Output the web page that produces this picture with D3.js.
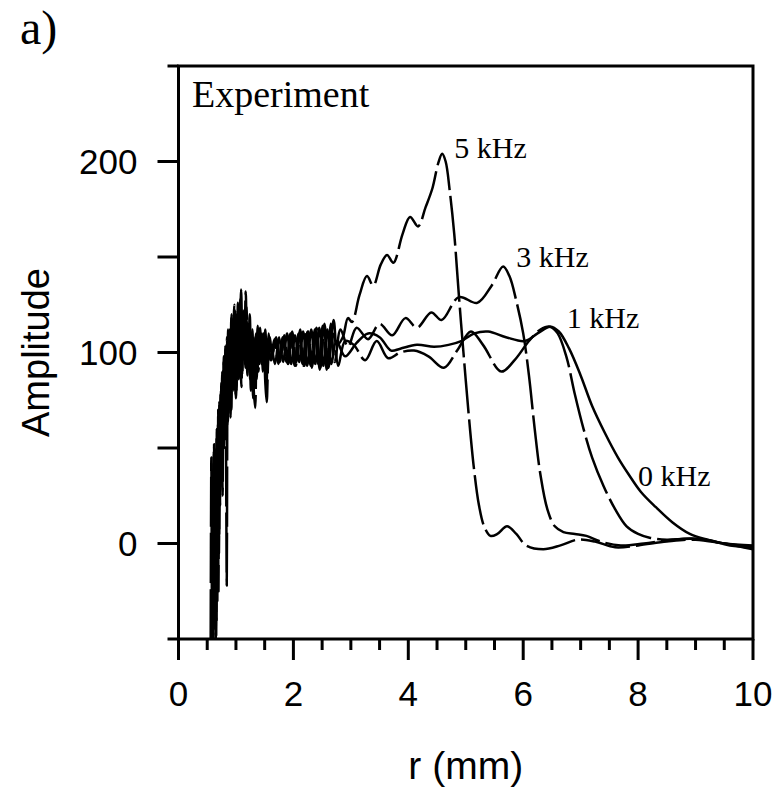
<!DOCTYPE html>
<html>
<head>
<meta charset="utf-8">
<script src="https://cdn.jsdelivr.net/npm/d3@7"></script>
<style>
  body { margin: 0; background: #fff; }
</style>
</head>
<body>
<svg id="chart" width="778" height="794"></svg>
<script>
// amplitude profiles as [r (mm), amplitude]
const khz5 = [
  [0.56,-50],[0.572,45],[0.584,-50],[0.596,30],[0.608,-45],[0.62,52],[0.632,-20],[0.644,40],[0.656,-48],[0.668,60],
  [0.68,10],[0.692,70],[0.704,-5],[0.716,65],[0.728,30],[0.74,80],[0.752,45],[0.764,90],[0.776,55],[0.79,98],
  [0.805,62],[0.82,105],[0.835,78],[0.85,100],[0.87,68],[0.89,112],[0.91,75],[0.935,118],[0.96,86],[0.985,122],
  [1.01,80],[1.035,126],[1.06,95],[1.085,115],[1.11,88],[1.135,120],[1.16,98],[1.185,124],[1.21,92],[1.235,110],
  [1.26,80],[1.285,112],[1.31,95],[1.335,108],[1.36,86],[1.39,112],[1.42,96],[1.45,110],[1.48,92],[1.51,112],
  [1.54,95],[1.57,110],
  [1.62,96],[1.69,107],[1.76,95],[1.83,108],[1.9,94],[1.97,109],[2.04,93],[2.11,110],[2.18,93],[2.25,111],
  [2.32,92],[2.39,112],[2.46,91],[2.53,114],[2.6,92],[2.67,112],[2.76,104],[2.86,108],[2.95,118],[3.02,116],
  [3.15,130],[3.28,140],[3.39,135],[3.52,146],[3.63,151],[3.74,147],[3.9,162],[4.03,171],[4.17,166],[4.3,176],
  [4.42,186],[4.52,199],[4.59,204],[4.65,200],[4.72,185],[4.8,162],[4.88,130],[4.96,100],[5.05,68],[5.14,40],
  [5.23,20],[5.32,9],[5.43,4],[5.55,5],[5.72,9],[5.88,5],[6.05,-1],[6.35,-3],[6.65,-1],[6.95,2],
  [7.25,1],[7.6,-2],[8.0,-1],[8.5,1],[9.0,2],[9.5,0],[10,-2]
];
const khz3 = [
  [0.58,-50],[0.592,20],[0.604,-50],[0.616,48],[0.628,-35],[0.64,38],[0.652,-10],[0.664,55],[0.676,-30],[0.688,62],
  [0.7,15],[0.712,75],[0.724,20],[0.736,70],[0.748,40],[0.76,88],[0.772,50],[0.786,95],[0.8,60],[0.815,102],
  [0.83,70],[0.845,108],[0.86,64],[0.88,100],[0.9,72],[0.92,118],[0.945,84],[0.97,125],[0.995,78],[1.02,120],
  [1.045,88],[1.07,112],[1.095,82],[1.12,118],[1.145,96],[1.17,132],[1.195,100],[1.22,114],[1.245,86],[1.27,108],
  [1.3,76],[1.325,106],[1.35,92],[1.38,114],[1.41,94],[1.44,111],[1.47,90],[1.5,108],[1.53,80],[1.56,104],
  [1.6,96],[1.67,107],[1.74,94],[1.81,108],[1.88,95],[1.95,110],[2.02,93],[2.09,110],[2.16,94],[2.23,112],
  [2.3,93],[2.37,112],[2.44,92],[2.51,114],[2.58,91],[2.65,115],[2.72,95],[2.82,112],[2.95,103],[3.1,113],
  [3.3,107],[3.5,115],[3.72,109],[3.95,118],[4.15,113],[4.4,121],[4.58,117],[4.88,129],[5.2,126],[5.45,135],
  [5.65,145],[5.76,140],[5.88,127],[6.0,110],[6.1,88],[6.2,60],[6.3,36],[6.42,18],[6.55,9],[6.7,6],
  [6.9,5],[7.1,4],[7.35,1],[7.7,-1],[8.1,0],[8.6,2],[9.0,2.5],[9.5,0],[10,-3]
];
const khz1 = [
  [0.6,-50],[0.612,42],[0.624,-40],[0.636,25],[0.648,-50],[0.66,50],[0.672,0],[0.684,58],[0.696,-25],[0.708,68],
  [0.72,28],[0.732,78],[0.744,35],[0.756,60],[0.768,25],[0.78,86],[0.795,50],[0.81,92],[0.825,60],[0.84,-22],
  [0.855,95],[0.87,70],[0.885,108],[0.905,66],[0.925,120],[0.95,82],[0.975,112],[1.0,76],[1.025,104],[1.05,86],
  [1.075,128],[1.1,98],[1.125,122],[1.15,96],[1.175,115],[1.2,88],[1.225,112],[1.25,95],[1.28,104],[1.31,80],
  [1.335,71],[1.36,100],[1.39,90],[1.42,113],[1.45,94],[1.48,110],[1.51,85],[1.535,74],[1.56,95],[1.59,108],
  [1.63,99],[1.7,108],[1.77,96],[1.84,109],[1.91,94],[1.98,111],[2.05,95],[2.12,112],[2.19,93],[2.26,111],
  [2.33,94],[2.4,113],[2.47,92],[2.54,115],[2.61,92],[2.7,117],[2.78,93],[2.9,106],[3.05,104],[3.25,96],
  [3.45,106],[3.65,97],[3.86,100],[4.1,101],[4.35,98],[4.62,92],[4.85,101],[5.09,111],[5.3,104],[5.62,90],
  [5.85,96],[6.1,106],[6.3,112],[6.47,113.5],[6.6,110],[6.75,98],[6.9,78],[7.05,60],[7.2,45],[7.4,30],
  [7.6,18],[7.8,9],[8.0,5],[8.2,3],[8.5,2],[8.9,2.5],[9.2,2],[9.6,-1],[10,-2]
];
const khz0 = [
  [0.59,-50],[0.602,38],[0.614,-45],[0.626,50],[0.638,-15],[0.65,45],[0.662,-40],[0.674,55],[0.686,20],[0.698,66],
  [0.71,5],[0.722,72],[0.734,38],[0.746,84],[0.758,48],[0.77,90],[0.784,58],[0.8,96],[0.816,66],[0.832,104],
  [0.848,62],[0.864,112],[0.88,74],[0.9,108],[0.92,70],[0.94,116],[0.965,80],[0.99,120],[1.015,100],[1.04,122],
  [1.065,102],[1.09,133],[1.115,100],[1.14,118],[1.165,92],[1.19,116],[1.215,96],[1.24,120],[1.265,98],[1.29,106],
  [1.32,88],[1.35,110],[1.38,94],[1.41,112],[1.44,96],[1.47,108],[1.5,93],[1.53,106],[1.56,96],
  [1.61,104],[1.68,94],[1.75,108],[1.82,95],[1.89,110],[1.96,94],[2.03,109],[2.1,95],[2.17,111],[2.24,93],
  [2.31,112],[2.38,94],[2.45,113],[2.52,93],[2.59,112],[2.66,94],[2.75,106],[2.9,98],[3.1,105],[3.3,110],
  [3.5,108],[3.7,101],[3.86,102],[4.15,104],[4.45,103],[4.7,104],[4.92,106],[5.15,110],[5.39,111],[5.7,108],
  [6.03,106],[6.25,110],[6.47,113.5],[6.62,111],[6.8,102],[7.0,88],[7.2,72],[7.42,58],[7.65,45],[7.84,36],
  [8.05,27],[8.31,19],[8.6,11],[8.9,5],[9.2,2],[9.5,0],[10,-1]
];

const curveLabels = ['5 kHz', '3 kHz', '1 kHz', '0 kHz'];
const labelR = [4.8, 5.88, 6.76, 8.0];
const labelAmp = [202, 145, 112.6, 30];
const xTicks = [0, 2, 4, 6, 8, 10];
const xMinor = d3.range(0, 10.01, 0.5);
const yTicks = [0, 100, 200];
const yMinor = [-50, 0, 50, 100, 150, 200, 250];

const svg = d3.select('#chart');
const box = {left: 178.5, right: 753, top: 66, bottom: 639};

const x = d3.scaleLinear().domain([0, 10]).range([box.left, box.right]);
const y = d3.scaleLinear().domain([-50, 250]).range([box.bottom, box.top]);

const series = [
  {data: khz5, dash: '50,6'},
  {data: khz3, dash: '50,6'},
  {data: khz1, dash: '60,6'},
  {data: khz0, dash: null},
];

svg.append('clipPath').attr('id', 'plot')
  .append('rect').attr('x', box.left).attr('y', box.top)
  .attr('width', box.right - box.left).attr('height', box.bottom - box.top);

const line = d3.line()
  .x((d) => x(d[0]))
  .y((d) => y(d[1]))
  .curve(d3.curveCatmullRom.alpha(0.5));

svg.append('g').attr('clip-path', 'url(#plot)')
  .selectAll('path.curve')
  .data(series)
  .join('path')
  .attr('class', 'curve')
  .attr('d', (d) => line(d.data))
  .attr('fill', 'none')
  .attr('stroke', '#000')
  .attr('stroke-width', 2.5)
  .attr('stroke-linejoin', 'round')
  .attr('stroke-dasharray', (d) => d.dash);

// frame and outward ticks (minor ticks every 0.5 mm on r)
const ax = svg.append('g').attr('stroke', '#000').attr('stroke-width', 3);
ax.append('rect').attr('x', box.left).attr('y', box.top)
  .attr('width', box.right - box.left).attr('height', box.bottom - box.top).attr('fill', 'none');

ax.selectAll('line.yt')
  .data(yMinor)
  .join('line')
  .attr('class', 'yt')
  .attr('x1', (d) => box.left - (d === -50 || d === 250 ? 11 : 21))
  .attr('x2', box.left)
  .attr('y1', (d) => y(d))
  .attr('y2', (d) => y(d));

ax.selectAll('line.xt')
  .data(xMinor)
  .join('line')
  .attr('class', 'xt')
  .attr('x1', (d) => x(d))
  .attr('x2', (d) => x(d))
  .attr('y1', box.bottom)
  .attr('y2', (d) => box.bottom + (d % 2 === 0 ? 21 : 11));

svg.selectAll('text.ylab')
  .data(yTicks)
  .join('text')
  .attr('class', 'ylab')
  .attr('x', box.left - 41)
  .attr('y', (d) => y(d))
  .attr('dy', '0.36em')
  .attr('text-anchor', 'end')
  .attr('font-family', 'Liberation Sans, Arial, sans-serif')
  .attr('font-size', 35)
  .text((d) => d);

svg.selectAll('text.xlab')
  .data(xTicks)
  .join('text')
  .attr('class', 'xlab')
  .attr('x', (d) => x(d))
  .attr('y', 706)
  .attr('text-anchor', 'middle')
  .attr('font-family', 'Liberation Sans, Arial, sans-serif')
  .attr('font-size', 35)
  .text((d) => d);

svg.append('text')
  .attr('x', x(5))
  .attr('y', 779)
  .attr('text-anchor', 'middle')
  .attr('font-family', 'Liberation Sans, Arial, sans-serif')
  .attr('font-size', 39)
  .text('r (mm)');

svg.append('text')
  .attr('transform', `translate(49,${y(100)}) rotate(-90)`)
  .attr('text-anchor', 'middle')
  .attr('font-family', 'Liberation Sans, Arial, sans-serif')
  .attr('font-size', 38)
  .text('Amplitude');

svg.append('text')
  .attr('x', 20).attr('y', 44)
  .attr('font-family', 'Liberation Serif, Times New Roman, serif')
  .attr('font-size', 48)
  .text('a)');

svg.append('text')
  .attr('x', 192).attr('y', 107)
  .attr('font-family', 'Liberation Serif, Times New Roman, serif')
  .attr('font-size', 38)
  .text('Experiment');

svg.selectAll('text.clab')
  .data(curveLabels)
  .join('text')
  .attr('class', 'clab')
  .attr('x', (d, i) => x(labelR[i]))
  .attr('y', (d, i) => y(labelAmp[i]))
  .attr('font-family', 'Liberation Serif, Times New Roman, serif')
  .attr('font-size', 30)
  .text((d) => d);
</script>
</body>
</html>
